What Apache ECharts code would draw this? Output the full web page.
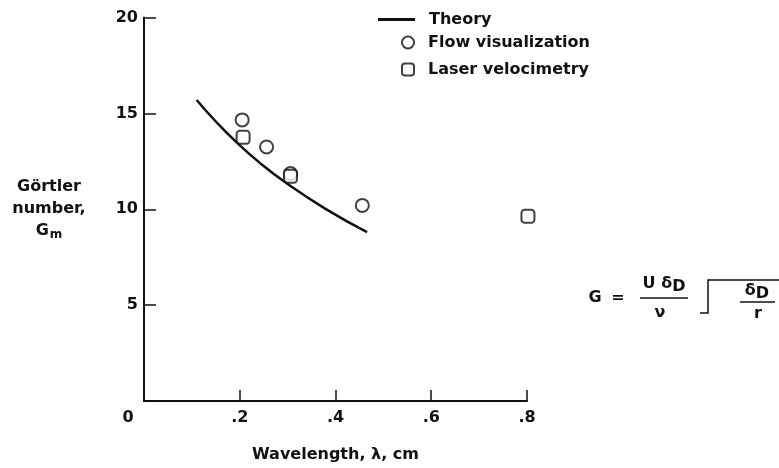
<!DOCTYPE html>
<html>
<head>
<meta charset="utf-8">
<script src="https://cdn.jsdelivr.net/npm/echarts@6/dist/echarts.min.js"></script>
<style>
html,body{margin:0;padding:0;background:#fff;}
#chart{width:779px;height:468px;}
</style>
</head>
<body>
<div id="chart"></div>
<script>
// Data
var theoryX = [0.11, 0.151, 0.193, 0.242, 0.295, 0.38, 0.466];
var theoryY = [15.7, 14.55, 13.5, 12.42, 11.41, 10.01, 8.81];
var flowX = [0.205, 0.256, 0.306, 0.456];
var flowY = [14.66, 13.25, 11.86, 10.2];
var laserX = [0.207, 0.306, 0.802];
var laserY = [13.75, 11.72, 9.64];
var xTicks = ['0', '.2', '.4', '.6', '.8'];
var yTicks = ['', '5', '10', '15', '20'];

function pairs(xs, ys) { return xs.map(function (x, i) { return [x, ys[i]]; }); }

var FONT = 'DejaVu Sans';
var FS = 16;
var INK = '#111';
function ts(extra) {
  var o = { fontFamily: FONT, fontSize: FS, fontWeight: 'bold', color: INK };
  for (var k in extra) o[k] = extra[k];
  return o;
}
var F = 'bold ' + FS + 'px ' + FONT;
var chart = echarts.init(document.getElementById('chart'));
chart.setOption({
  animation: false,
  backgroundColor: '#fff',
  textStyle: { fontFamily: FONT, color: INK },
  grid: { left: 144, right: 252, top: 17.5, bottom: 66 },
  legend: [
    {
      data: [{ name: 'Theory', icon: 'rect' }], left: 378, top: 11, padding: 0,
      itemWidth: 37, itemHeight: 3,
      textStyle: ts({ padding: [0, 0, 0, 9], lineHeight: 17 })
    },
    {
      data: ['Flow visualization', 'Laser velocimetry'], orient: 'vertical',
      left: 401, top: 34, padding: 0, itemWidth: 12, itemHeight: 12, itemGap: 10,
      textStyle: ts({ padding: [0, 0, 0, 9], lineHeight: 17 })
    }
  ],
  xAxis: {
    type: 'value', min: 0, max: 0.8, interval: 0.2,
    name: 'Wavelength, λ, cm', nameLocation: 'middle', nameGap: 46,
    nameTextStyle: ts({}),
    axisLine: { lineStyle: { color: INK, width: 2 } },
    axisTick: { inside: true, length: 11, lineStyle: { color: INK, width: 1.5 } },
    axisLabel: ts({
      margin: 9,
      formatter: function (v) {
        var i = Math.round(v / 0.2);
        return i === 0 ? '{z|' + xTicks[0] + '}' : xTicks[i];
      },
      rich: { z: ts({ padding: [0, 32, 0, 0] }) }
    }),
    splitLine: { show: false }
  },
  yAxis: {
    type: 'value', min: 0, max: 20, interval: 5,
    name: 'Görtler\nnumber,\n{g|G}{m|m}', nameLocation: 'middle', nameGap: 95, nameRotate: 0,
    nameTextStyle: ts({
      align: 'center', lineHeight: 22,
      rich: {
        g: ts({ lineHeight: 22 }),
        m: ts({ fontSize: 12, lineHeight: 22, padding: [8, 0, 0, 1] })
      }
    }),
    axisLine: { lineStyle: { color: INK, width: 2 } },
    axisTick: { inside: true, length: 12, lineStyle: { color: INK, width: 1.5 } },
    axisLabel: ts({
      margin: 6,
      formatter: function (v) { return yTicks[Math.round(v / 5)]; }
    }),
    splitLine: { show: false }
  },
  series: [
    {
      name: 'Theory', type: 'line', data: pairs(theoryX, theoryY),
      smooth: true, symbol: 'none', lineStyle: { color: INK, width: 2.5 }, itemStyle: { color: INK }
    },
    {
      name: 'Flow visualization', type: 'scatter', data: pairs(flowX, flowY), clip: false,
      symbol: 'emptyCircle', symbolSize: 13, itemStyle: { color: INK, borderWidth: 1.8 }
    },
    {
      name: 'Laser velocimetry', type: 'scatter', data: pairs(laserX, laserY), clip: false,
      symbol: 'emptyRoundRect', symbolSize: 13, itemStyle: { color: INK, borderWidth: 1.8 }
    }
  ],
  graphic: [
    { type: 'text', x: 595, y: 298, style: { text: 'G', font: F, fill: INK, align: 'center', verticalAlign: 'middle' } },
    { type: 'text', x: 618, y: 298, style: { text: '=', font: F, fill: INK, align: 'center', verticalAlign: 'middle' } },
    { type: 'text', x: 664, y: 284, style: {
        text: 'U δ{s|D}', font: F, fill: INK, align: 'center', verticalAlign: 'middle',
        rich: { s: { font: F, fill: INK, padding: [6, 0, 0, 0] } } } },
    { type: 'line', shape: { x1: 640, y1: 298, x2: 688, y2: 298 }, style: { stroke: INK, lineWidth: 1.5 } },
    { type: 'text', x: 660, y: 313, style: { text: 'ν', font: F, fill: INK, align: 'center', verticalAlign: 'middle' } },
    { type: 'polyline', shape: { points: [[700, 313], [708, 313], [708, 280], [779, 280]] }, style: { stroke: INK, lineWidth: 1.5, fill: null } },
    { type: 'text', x: 757, y: 291, style: {
        text: 'δ{s|D}', font: F, fill: INK, align: 'center', verticalAlign: 'middle',
        rich: { s: { font: F, fill: INK, padding: [6, 0, 0, 0] } } } },
    { type: 'line', shape: { x1: 740, y1: 302, x2: 775, y2: 302 }, style: { stroke: INK, lineWidth: 1.5 } },
    { type: 'text', x: 758, y: 314, style: { text: 'r', font: F, fill: INK, align: 'center', verticalAlign: 'middle' } }
  ]
});
</script>
</body>
</html>
